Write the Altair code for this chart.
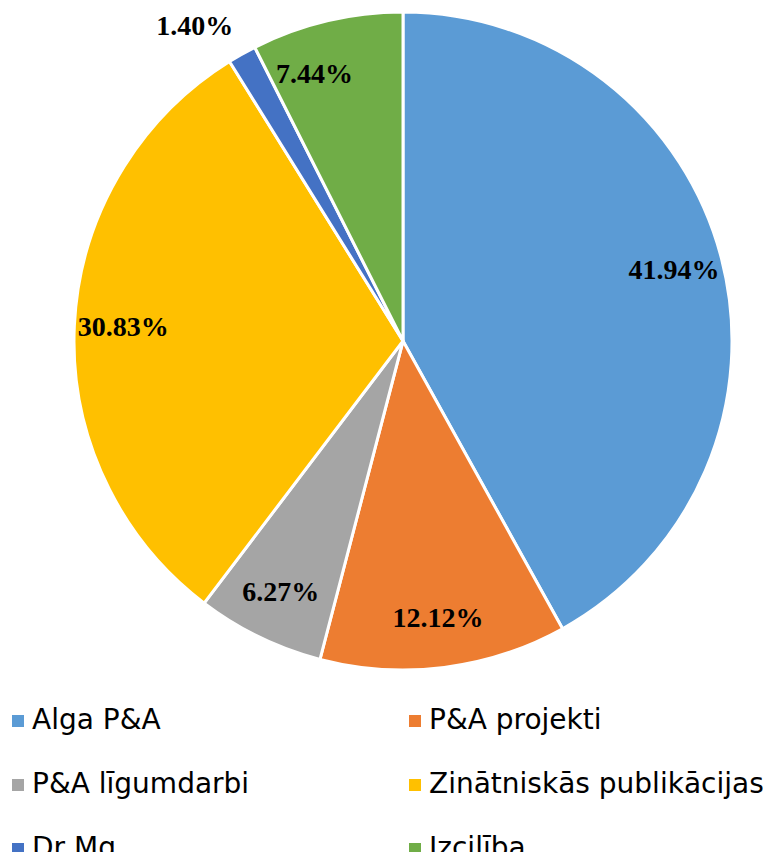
import altair as alt
import pandas as pd

categories = ["Alga P&A", "P&A projekti", "P&A līgumdarbi",
              "Zinātniskās publikācijas", "Dr Mg", "Izcilība"]
values = [41.94, 12.12, 6.27, 30.83, 1.40, 7.44]
labels = ["41.94%", "12.12%", "6.27%", "30.83%", "1.40%", "7.44%"]
colors = ["#5B9BD5", "#ED7D31", "#A5A5A5", "#FFC000", "#4472C4", "#70AD47"]

df = pd.DataFrame({"cat": categories, "val": values, "lab": labels,
                   "ord": list(range(len(categories)))})

CX, CY, R = 395, 333, 329

base = alt.Chart(df).encode(
    theta=alt.Theta("val:Q", stack=True),
    order=alt.Order("ord:Q"),
)

pie = base.mark_arc(stroke="white", strokeWidth=3, outerRadius=R).encode(
    x=alt.value(CX), y=alt.value(CY),
    color=alt.Color("cat:N", sort=categories,
                    scale=alt.Scale(domain=categories, range=colors),
                    legend=alt.Legend(
                        title=None, orient="none", legendX=-4, legendY=699,
                        direction="horizontal",
                        columns=2, columnPadding=151, rowPadding=36,
                        symbolType="square", symbolSize=144, symbolStrokeWidth=0,
                        labelFont="DejaVu Sans", labelFontSize=28,
                        labelColor="black", labelOffset=0, labelLimit=500)),
)

txt_in = base.mark_text(radius=280, font="Liberation Serif", fontWeight="bold",
                        fontSize=28, color="black").encode(
    x=alt.value(CX), y=alt.value(CY),
    text=alt.Text("lab:N"),
).transform_filter(alt.datum.val > 2)

txt_out = base.mark_text(radius=360, dx=-32, font="Liberation Serif", fontWeight="bold",
                         fontSize=28, color="black").encode(
    x=alt.value(CX), y=alt.value(CY),
    text=alt.Text("lab:N"),
    opacity=alt.condition(alt.datum.val < 2, alt.value(1), alt.value(0)),
)

chart = alt.layer(pie, txt_in, txt_out).properties(
    width=755, height=844, autosize=alt.AutoSizeParams(type="none"), padding=0,
).configure_view(stroke=None)

chart.save("out.html", embed_options={"renderer": "svg", "actions": False})
